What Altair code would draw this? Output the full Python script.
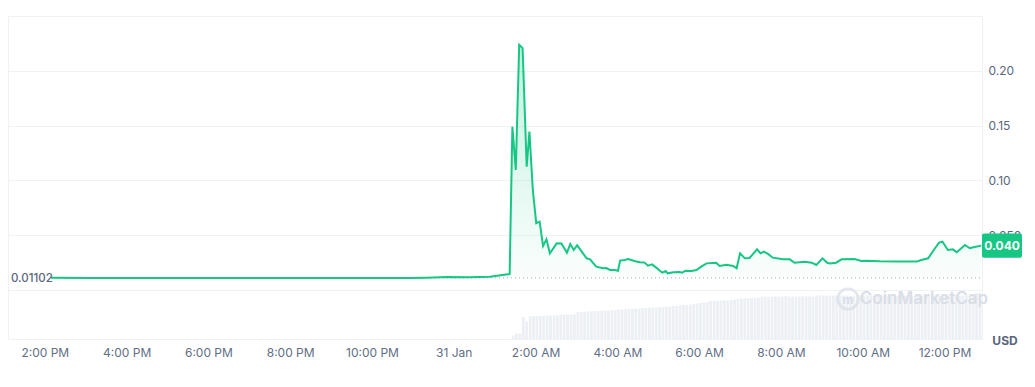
import altair as alt
import pandas as pd

# ---------------- data ----------------
times_jan30 = ["14:09", "15:06", "16:05", "17:03", "18:02", "19:01", "20:00",
               "20:58", "21:57", "22:55", "23:20", "23:50"]
prices_jan30 = [0.0111, 0.0110, 0.0110, 0.0109, 0.0110, 0.0109, 0.0110,
                0.0109, 0.0109, 0.0110, 0.0112, 0.0118]

times_jan31 = ["00:23", "00:53", "01:22", "01:26", "01:31", "01:36", "01:41", "01:47",
               "01:51", "01:56", "02:01", "02:06", "02:11", "02:16", "02:21", "02:31",
               "02:38", "02:46", "02:51", "02:56", "03:01", "03:15", "03:20", "03:29",
               "03:39", "03:44", "03:49", "03:56", "04:01", "04:04", "04:11", "04:16",
               "04:25", "04:33", "04:40", "04:45", "04:51", "04:57", "05:06", "05:11",
               "05:14", "05:22", "05:31", "05:35", "05:40", "05:49", "05:56", "06:03",
               "06:11", "06:25", "06:30", "06:40", "06:50", "06:55", "07:00", "07:07",
               "07:14", "07:25", "07:30", "07:35", "07:41", "07:48", "08:03", "08:13",
               "08:20", "08:35", "08:45", "08:52", "09:01", "09:08", "09:12", "09:21",
               "09:29", "09:48", "09:58", "10:05", "10:25", "10:50", "11:19", "11:26",
               "11:36", "11:46", "11:52", "11:57", "12:05", "12:12", "12:18", "12:30",
               "12:37", "12:44", "12:54"]
prices_jan31 = [0.0117, 0.0122, 0.0146, 0.1490, 0.1096, 0.2237, 0.2207, 0.1126,
                0.1445, 0.0913, 0.0610, 0.0624, 0.0402, 0.0462, 0.0335, 0.0426,
                0.0424, 0.0341, 0.0420, 0.0365, 0.0408, 0.0289, 0.0280, 0.0213,
                0.0198, 0.0200, 0.0183, 0.0183, 0.0176, 0.0268, 0.0274, 0.0283,
                0.0265, 0.0253, 0.0250, 0.0222, 0.0234, 0.0204, 0.0158, 0.0173,
                0.0152, 0.0161, 0.0164, 0.0158, 0.0176, 0.0173, 0.0183, 0.0213,
                0.0243, 0.0249, 0.0219, 0.0231, 0.0219, 0.0198, 0.0335, 0.0289,
                0.0292, 0.0372, 0.0335, 0.0350, 0.0329, 0.0295, 0.0280, 0.0280,
                0.0249, 0.0258, 0.0249, 0.0228, 0.0289, 0.0249, 0.0243, 0.0249,
                0.0280, 0.0283, 0.0265, 0.0268, 0.0262, 0.0259, 0.0259, 0.0274,
                0.0289, 0.0381, 0.0432, 0.0441, 0.0365, 0.0371, 0.0344, 0.0411,
                0.0381, 0.0392, 0.0405]

open_price = 0.01102
last_price_label = "0.040"

# 24h volume (5-minute bars from 01:25, 31 Jan), in thousand USD (estimated)
volume_start = "2024-01-31T01:25"
volumes = [3.5, 5.5, 5.5, 22, 17.5, 22.5, 23, 23, 23, 23.5, 23.5, 23.5, 23.5, 23.5,
           24.5, 24.5, 24.5, 24.5, 24.5, 27, 27, 27, 27.5, 27.5, 28, 28, 28, 28.5,
           28.5, 29, 29, 29.5, 29.5, 30, 30, 30, 30.5, 30.5, 31, 31, 31.5, 31.5, 31.5,
           32, 32, 32.5, 32.5, 33, 33, 33.5, 34, 34, 34.5, 35, 35.5, 36, 36.5, 37, 38,
           38, 38, 38.5, 38.5, 38.5, 39, 39.5, 40, 40.5, 40.5, 40.5, 41, 41, 41.5,
           42.5, 42.5, 42, 42.5, 42.5, 42.5, 42.5, 43, 42.5, 42.5, 42.5, 42.5, 43, 42.5,
           42.5, 42.5,
           43.5, 43.5, 43.5, 43, 43.5, 43.5, 43.5, 43.5, 43.5, 43.5, 43, 43.5, 43.5,
           43.5, 43.5, 43.5, 43.5, 43.5, 43.5, 44, 43.5, 43.5, 43.5, 43.5, 43.5, 43.5,
           43.5, 43.5, 43.5, 43, 43.5, 43.5, 43.5, 43.5, 43.5, 43.5, 43.5, 43.5, 43.5,
           43.5, 43.5, 44, 43.5, 43.5, 43.5, 43.5, 43.5,
           46, 46]

# ---------------- tables ----------------
price_df = pd.DataFrame({
    "t": [pd.Timestamp("2024-01-30T" + s) for s in times_jan30]
         + [pd.Timestamp("2024-01-31T" + s) for s in times_jan31],
    "price": prices_jan30 + prices_jan31,
})

vt = pd.date_range(volume_start, periods=len(volumes), freq="5min")
vol_df = pd.DataFrame({"t": vt, "t2": vt + pd.Timedelta(minutes=4), "vol": volumes})

base_df = pd.DataFrame({"t": [price_df["t"].iloc[0]], "t2": [price_df["t"].iloc[-1]],
                        "price": [open_price]})

x_start = alt.DateTime(year=2024, month=1, date=30, hours=13, minutes=6)
x_end = alt.DateTime(year=2024, month=1, date=31, hours=12, minutes=55)
tick_vals = [alt.DateTime(year=2024, month=1, date=30, hours=h) for h in (14, 16, 18, 20, 22)] + \
            [alt.DateTime(year=2024, month=1, date=31, hours=h) for h in (0, 2, 4, 6, 8, 10, 12)]

xscale = alt.Scale(domain=[x_start, x_end])
xaxis = alt.Axis(values=tick_vals, grid=False, ticks=False, domain=False,
                 labelExpr="hours(datum.value) == 0 ? timeFormat(datum.value, '%d %b') : timeFormat(datum.value, '%-I:%M %p')",
                 labelColor="#616e85", labelFontSize=12, labelPadding=8, title=None,
                 labelFlush=False)

yscale = alt.Scale(domain=[-0.0447, 0.25], nice=False, zero=False)
yaxis = alt.Axis(orient="right", values=[0, 0.05, 0.10, 0.15, 0.20, 0.25],
                 labelExpr="datum.value == 0 || datum.value > 0.24 ? '' : (abs(datum.value - 0.05) < 1e-9 ? '0.050' : format(datum.value, '.2f'))",
                 ticks=False, domain=False, grid=True, gridColor="#eff2f5",
                 labelColor="#58667e", labelFontSize=12, labelPadding=6, title=None)

green = "#16c784"
gradient = alt.Gradient(
    gradient="linear",
    stops=[alt.GradientStop(color="rgba(22,199,132,0.26)", offset=0),
           alt.GradientStop(color="rgba(22,199,132,0.02)", offset=1)],
    x1=1, x2=1, y1=0, y2=1)

X = alt.X("t:T", scale=xscale, axis=xaxis)
Y = alt.Y("price:Q", scale=yscale, axis=yaxis)

area = alt.Chart(price_df).mark_area(color=gradient).encode(
    x=X, y=Y, y2=alt.datum(open_price))

baseline = alt.Chart(base_df).mark_rule(color="#a1a7bb", strokeDash=[1, 3], strokeWidth=1).encode(
    x=X, x2="t2:T", y=Y)

line = alt.Chart(price_df).mark_line(color=green, strokeWidth=2).encode(x=X, y=Y)

open_label = alt.Chart(base_df).mark_text(
    align="left", baseline="middle", dy=1, fontSize=11.5, fontWeight=500, color="#58667e"
).encode(x=alt.value(3), y=Y, text=alt.value(f"{open_price:.5f}"))

badge = alt.Chart(base_df).mark_rect(color=green, cornerRadius=2).encode(
    x=alt.value(974), x2=alt.value(1014),
    y=alt.datum(0.0515, scale=yscale), y2=alt.datum(0.0295))

badge_text = alt.Chart(base_df).mark_text(
    align="center", baseline="middle", fontSize=12, fontWeight="bold", color="white"
).encode(x=alt.value(994), y=alt.datum(0.0405), text=alt.value(last_price_label))

price_group = alt.layer(area, baseline, line, open_label, badge, badge_text)

vol_bars = alt.Chart(vol_df).mark_rect(color="#eceff3").encode(
    x=alt.X("t:T", scale=xscale, axis=xaxis),
    x2="t2:T",
    y=alt.Y("vol:Q", scale=alt.Scale(domain=[0, 323], nice=False), axis=None),
    y2=alt.datum(0))

wm_text = alt.Chart(base_df).mark_text(
    align="center", baseline="middle", fontSize=17, fontWeight=600, color="#d9dee7"
).encode(x=alt.value(916), y=alt.value(283), text=alt.value("CoinMarketCap"))

wm_logo = alt.Chart(base_df).mark_point(
    shape="circle", size=420, filled=False, color="#d9dee7", strokeWidth=2.5
).encode(x=alt.value(840), y=alt.value(283))

wm_m = alt.Chart(base_df).mark_text(
    align="center", baseline="middle", fontSize=12, fontWeight="bold", color="#d9dee7"
).encode(x=alt.value(840), y=alt.value(284), text=alt.value("m"))

usd = alt.Chart(base_df).mark_text(
    align="center", baseline="middle", fontSize=12, fontWeight="bold", color="#58667e"
).encode(x=alt.value(997), y=alt.value(325), text=alt.value("USD"))

vol_group = alt.layer(vol_bars, wm_logo, wm_m, wm_text, usd)

chart = alt.layer(vol_group, price_group).resolve_scale(y="independent").properties(
    width=974, height=323,
    padding={"left": 0, "top": 8, "right": 0, "bottom": 0},
).configure(font="Inter").configure_view(stroke="#eff2f5")

chart.save("out.html", embed_options={"renderer": "svg", "actions": False})
